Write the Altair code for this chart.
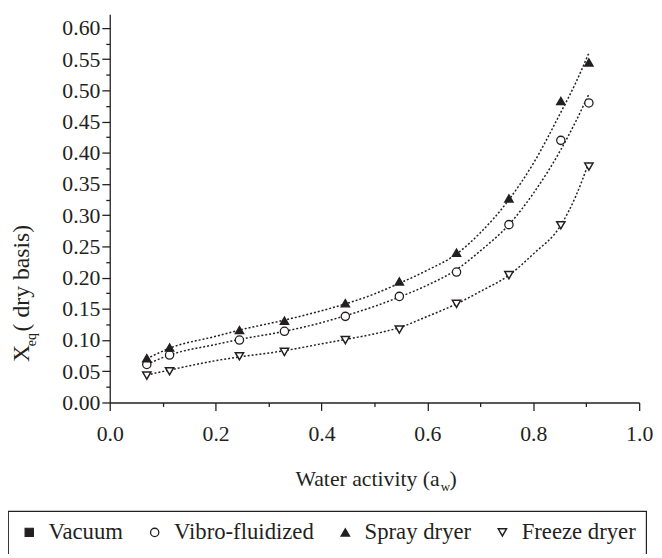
import altair as alt
import pandas as pd

# ---- data ----
aw = [0.070, 0.113, 0.245, 0.330, 0.445, 0.547, 0.655, 0.754, 0.852, 0.905]
vibro = [0.061, 0.076, 0.100, 0.114, 0.138, 0.170, 0.209, 0.285, 0.420, 0.480]
spray = [0.071, 0.088, 0.116, 0.131, 0.159, 0.194, 0.240, 0.327, 0.483, 0.545]
freeze = [0.043, 0.050, 0.074, 0.081, 0.100, 0.117, 0.158, 0.204, 0.284, 0.378]

fit_aw = [0.07, 0.113, 0.2, 0.245, 0.33, 0.4, 0.445, 0.5, 0.547, 0.6, 0.655, 0.7, 0.754, 0.8, 0.852, 0.88, 0.905]
spray_fit = [0.070, 0.087, 0.106, 0.116, 0.132, 0.147, 0.158, 0.174, 0.191, 0.212, 0.238, 0.272, 0.325, 0.383, 0.465, 0.512, 0.560]
vibro_fit = [0.061, 0.076, 0.093, 0.101, 0.114, 0.128, 0.139, 0.154, 0.169, 0.188, 0.213, 0.243, 0.285, 0.335, 0.405, 0.450, 0.494]
freeze_fit = [0.044, 0.052, 0.067, 0.073, 0.083, 0.094, 0.101, 0.110, 0.120, 0.138, 0.158, 0.178, 0.204, 0.238, 0.284, 0.330, 0.385]

series_names = ["Vacuum", "Vibro-fluidized", "Spray dryer", "Freeze dryer"]
series_shapes = ["square", "circle", "triangle-up", "triangle-down"]
series_fills = ["#231f20", "white", "#231f20", "white"]
series_sizes = [70, 70, 120, 105]
series_strokes = [1.2, 1.5, 1.0, 2.2]

x_ticks = [0.0, 0.1, 0.2, 0.3, 0.4, 0.5, 0.6, 0.7, 0.8, 0.9, 1.0]
y_ticks = [0.0, 0.025, 0.05, 0.075, 0.10, 0.125, 0.15, 0.175, 0.20, 0.225, 0.25, 0.275,
           0.30, 0.325, 0.35, 0.375, 0.40, 0.425, 0.45, 0.475, 0.50, 0.525, 0.55, 0.575, 0.60]

FONT = "Liberation Serif, Times New Roman, serif"
INK = "#231f20"

pts = pd.DataFrame({
    "aw": aw * 3,
    "x": vibro + spray + freeze,
    "series": ["Vibro-fluidized"] * len(aw) + ["Spray dryer"] * len(aw) + ["Freeze dryer"] * len(aw),
})
fits = pd.DataFrame({
    "aw": fit_aw * 3,
    "x": vibro_fit + spray_fit + freeze_fit,
    "series": ["Vibro-fluidized"] * len(fit_aw) + ["Spray dryer"] * len(fit_aw) + ["Freeze dryer"] * len(fit_aw),
})

xscale = alt.Scale(domain=[0, 1.0], nice=False, zero=False)
yscale = alt.Scale(domain=[0, 0.622], nice=False, zero=False)

xaxis = alt.Axis(
    values=x_ticks, title=None, grid=False,
    labelExpr="(round(datum.value*10) % 2 == 0) ? format(datum.value, '.1f') : ''",
    tickSize={"condition": {"test": "round(datum.value*10) % 2 == 0", "value": 8}, "value": 4},
    labelPadding=13, labelFlush=False, labelOverlap=False,
)
yaxis = alt.Axis(
    values=y_ticks, title=None, grid=False,
    labelExpr="(round(datum.value*40) % 2 == 0) ? format(datum.value, '.2f') : ''",
    tickSize={"condition": {"test": "round(datum.value*40) % 2 == 0", "value": 8}, "value": 4},
    labelPadding=2, labelFlush=False, labelOverlap=False,
)

lines = alt.Chart(fits).mark_line(
    strokeDash=[2, 2], strokeWidth=1.5, color=INK, interpolate="monotone"
).encode(
    x=alt.X("aw:Q", scale=xscale, axis=xaxis),
    y=alt.Y("x:Q", scale=yscale, axis=yaxis),
    detail="series:N",
)

leg = alt.Legend(title=None)
points = alt.Chart(pts).mark_point(opacity=1, filled=False).encode(
    x=alt.X("aw:Q", scale=xscale, axis=xaxis),
    y=alt.Y("x:Q", scale=yscale, axis=yaxis),
    shape=alt.Shape("series:N", scale=alt.Scale(domain=series_names, range=series_shapes), legend=leg),
    fill=alt.Fill("series:N", scale=alt.Scale(domain=series_names, range=series_fills), legend=leg),
    stroke=alt.Stroke("series:N", scale=alt.Scale(domain=series_names, range=[INK] * 4), legend=leg),
    size=alt.Size("series:N", scale=alt.Scale(domain=series_names, range=series_sizes), legend=leg),
    strokeWidth=alt.StrokeWidth("series:N", scale=alt.Scale(domain=series_names, range=series_strokes), legend=leg),
)

def label(txt, x, y, size=22, angle=0, align="left", baseline="alphabetic"):
    return alt.Chart(pd.DataFrame({"t": [txt]})).mark_text(
        font=FONT, fontSize=size, color=INK, angle=angle, align=align, baseline=baseline
    ).encode(text="t:N", x=alt.value(x), y=alt.value(y))

titles = [
    label("Water activity (a", 334, 478, align="right"),
    label("w", 335, 483, size=13),
    label(")", 344, 478),
    label("X", -82, 352, size=24, angle=270),
    label("eq", -75, 336, size=14, angle=270),
    label("( dry basis)", -82, 321, size=24, angle=270),
]

chart = alt.layer(lines, points, *titles).properties(
    width=536, height=393,
    autosize=alt.AutoSizeParams(type="none"),
    padding={"left": 103, "top": 3, "right": 15, "bottom": 150},
).configure_view(stroke=None).configure_axis(
    domainColor=INK, domainWidth=1.3, tickColor=INK, tickWidth=1.3,
    labelFont=FONT, labelFontSize=22, labelColor=INK, labelOverlap=False,
).configure_legend(
    orient="none", legendX=-103, legendY=503, direction="horizontal",
    strokeColor=INK, strokeWidth=1.2, padding=10, gridAlign="none",
    labelFont=FONT, labelFontSize=23, labelColor=INK,
    symbolStrokeColor=INK,
    columnPadding=20, labelOffset=8, symbolOffset=0,
)

chart.save("out.html", embed_options={"renderer": "svg", "actions": False})
